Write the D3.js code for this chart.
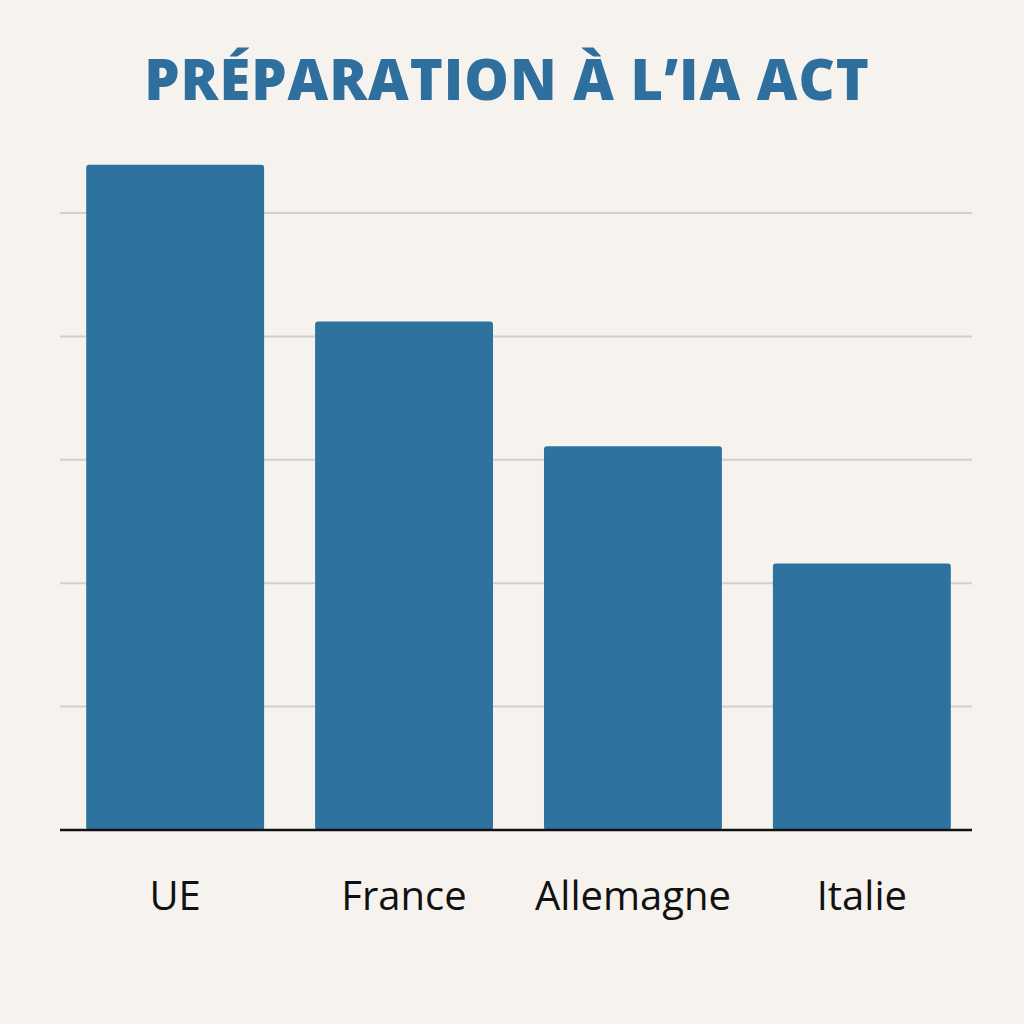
<!DOCTYPE html>
<html>
<head>
<meta charset="utf-8">
<script src="https://cdn.jsdelivr.net/npm/d3@7"></script>
<style>
  html, body { margin: 0; padding: 0; background: #f6f3ef; }
</style>
</head>
<body>
<script>
// data
var categories = ["UE", "France", "Allemagne", "Italie"]
var values = [5.39, 4.12, 3.11, 2.16]
var gridTicks = [1, 2, 3, 4, 5]
var title = "PRÉPARATION À L’IA ACT"

var width = 1024, height = 1024

var svg = d3.select("body").append("svg")
    .attr("width", width)
    .attr("height", height)

svg.append("rect")
    .attr("width", width)
    .attr("height", height)
    .attr("fill", "#f6f3ef")

var x = d3.scaleBand()
    .domain(categories)
    .range([61, 976])
    .paddingInner(0.2227)
    .paddingOuter(0.11)

var y = d3.scaleLinear()
    .domain([0, 5])
    .range([830, 213])

// gridlines
svg.selectAll("line.grid")
    .data(gridTicks)
    .enter()
    .append("line")
        .attr("class", "grid")
        .attr("x1", 60)
        .attr("x2", 972)
        .attr("y1", function(d) { return y(d) })
        .attr("y2", function(d) { return y(d) })
        .attr("stroke", "#d3d0cc")
        .attr("stroke-width", 2)

// bars
svg.selectAll("rect.bar")
    .data(values)
    .enter()
    .append("rect")
        .attr("class", "bar")
        .attr("x", function(d, i) { return x(categories[i]) })
        .attr("y", function(d) { return y(d) })
        .attr("width", x.bandwidth())
        .attr("height", function(d) { return y(0) - y(d) })
        .attr("rx", 3)
        .attr("fill", "#2e73a0")

// baseline
svg.append("line")
    .attr("x1", 60)
    .attr("x2", 972)
    .attr("y1", y(0))
    .attr("y2", y(0))
    .attr("stroke", "#111")
    .attr("stroke-width", 2.5)

// category labels
svg.selectAll("text.cat")
    .data(categories)
    .enter()
    .append("text")
        .attr("class", "cat")
        .attr("x", function(d) { return x(d) + x.bandwidth() / 2 })
        .attr("y", 910)
        .attr("text-anchor", "middle")
        .attr("font-family", "'Open Sans', 'DejaVu Sans', sans-serif")
        .attr("font-size", 40)
        .attr("fill", "#111")
        .text(function(d) { return d })

// title
svg.append("text")
    .attr("x", 507)
    .attr("y", 100)
    .attr("text-anchor", "middle")
    .attr("font-family", "'Open Sans', 'DejaVu Sans', sans-serif")
    .attr("font-weight", 800)
    .attr("font-size", 56)
    .attr("letter-spacing", 1)
    .attr("fill", "#2e6f9e")
    .text(title)
</script>
</body>
</html>
